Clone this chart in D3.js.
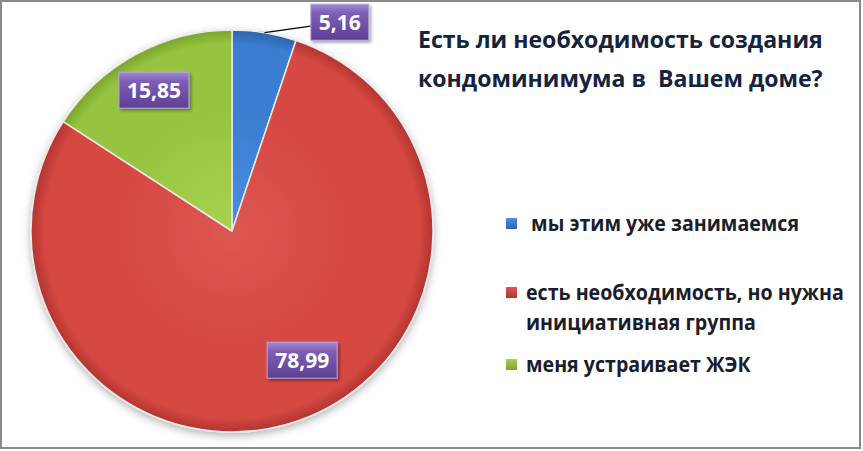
<!DOCTYPE html>
<html>
<head>
<meta charset="utf-8">
<script src="https://cdn.jsdelivr.net/npm/d3@7"></script>
<style>
  body { margin: 0; background: #fff; }
  text { font-family: "Open Sans", "DejaVu Sans", sans-serif; white-space: pre; }
</style>
</head>
<body>
<div id="chart"></div>
<script>
// survey answers, percent
var categories = ["мы этим уже занимаемся", "есть необходимость, но нужна инициативная группа", "меня устраивает ЖЭК"];
var values = [5.16, 78.99, 15.85];
var valueLabels = ["5,16", "78,99", "15,85"];
var legendLines = [[" мы этим уже занимаемся"], ["есть необходимость, но нужна", "инициативная группа"], ["меня устраивает ЖЭК"]];
var titleLines = ["Есть ли необходимость создания", "кондоминимума в  Вашем доме?"];

var colors = [
  {light: "#4a8ee2", base: "#3b7dd0", dark: "#2d63ab"},
  {light: "#dd5651", base: "#d64843", dark: "#b3342f"},
  {light: "#a6d250", base: "#97c440", dark: "#7aa52b"}
];

var width = 863, height = 451;
var cx = 232, cy = 231, radius = 201;

// where Excel put the value boxes (degrees clockwise from top, distance from centre)
var labelPlace = [{angle: 27.3, dist: 235}, {angle: 151.5, dist: 147}, {angle: 331, dist: 161}];

var svg = d3.select("#chart").append("svg")
    .attr("width", width)
    .attr("height", height);

var defs = svg.append("defs");

var shadow = defs.append("filter").attr("id", "pieShadow")
    .attr("x", "-10%").attr("y", "-10%").attr("width", "120%").attr("height", "125%");
shadow.append("feDropShadow").attr("dx", 0).attr("dy", 3).attr("stdDeviation", 4)
    .attr("flood-color", "#000").attr("flood-opacity", 0.3);

var boxShadow = defs.append("filter").attr("id", "boxShadow")
    .attr("x", "-20%").attr("y", "-20%").attr("width", "150%").attr("height", "160%");
boxShadow.append("feDropShadow").attr("dx", 2).attr("dy", 2).attr("stdDeviation", 1.5)
    .attr("flood-color", "#000").attr("flood-opacity", 0.35);

colors.forEach(function(c, i) {
  var g = defs.append("radialGradient").attr("id", "slice" + i)
      .attr("gradientUnits", "userSpaceOnUse")
      .attr("cx", 0).attr("cy", 0).attr("r", radius);
  g.append("stop").attr("offset", "0%").attr("stop-color", c.light);
  g.append("stop").attr("offset", "60%").attr("stop-color", c.base);
  g.append("stop").attr("offset", "93%").attr("stop-color", c.base);
  g.append("stop").attr("offset", "100%").attr("stop-color", c.dark);

  var s = defs.append("linearGradient").attr("id", "key" + i)
      .attr("x1", 0).attr("y1", 0).attr("x2", 0).attr("y2", 1);
  s.append("stop").attr("offset", "0%").attr("stop-color", c.light);
  s.append("stop").attr("offset", "100%").attr("stop-color", c.dark);
});

var boxGrad = defs.append("linearGradient").attr("id", "boxGrad")
    .attr("x1", 0).attr("y1", 0).attr("x2", 0).attr("y2", 1);
boxGrad.append("stop").attr("offset", "0%").attr("stop-color", "#a08ad2");
boxGrad.append("stop").attr("offset", "25%").attr("stop-color", "#7d5fb5");
boxGrad.append("stop").attr("offset", "100%").attr("stop-color", "#5e3f95");

// frame
svg.append("rect")
    .attr("x", 1).attr("y", 1)
    .attr("width", width - 4).attr("height", height - 4)
    .attr("fill", "#fff")
    .attr("stroke", "#8a8a8a")
    .attr("stroke-width", 2);

var pie = d3.pie().sort(null).value(function(d) { return d; });
var arcs = pie(values);

var arc = d3.arc().innerRadius(0).outerRadius(radius);

var g = svg.append("g")
    .attr("transform", "translate(" + cx + "," + cy + ")");

g.append("g")
    .attr("filter", "url(#pieShadow)")
    .selectAll("path")
    .data(arcs)
  .enter().append("path")
    .attr("d", arc)
    .attr("fill", function(d, i) { return "url(#slice" + i + ")"; })
    .attr("stroke", "#e8e8e8")
    .attr("stroke-width", 1.5)
    .attr("stroke-linejoin", "round");

var toRad = Math.PI / 180;
function labelPos(i) {
  var a = labelPlace[i].angle * toRad, r = labelPlace[i].dist;
  return [Math.sin(a) * r, -Math.cos(a) * r];
}

// leader line for the small slice
var edge = d3.arc().innerRadius(radius).outerRadius(radius).centroid(arcs[0]);
var p0 = labelPos(0);

var labels = g.selectAll("g.label")
    .data(arcs)
  .enter().append("g")
    .attr("class", "label")
    .attr("transform", function(d, i) { var p = labelPos(i); return "translate(" + p[0] + "," + p[1] + ")"; });

labels.append("text")
    .attr("text-anchor", "middle")
    .attr("dy", "0.36em")
    .style("font-size", "21px")
    .style("font-weight", 700)
    .attr("fill", "#fff")
    .text(function(d, i) { return valueLabels[i]; })
    .each(function(d) { d.w = this.getComputedTextLength(); });

labels.insert("rect", "text")
    .attr("x", function(d) { return -d.w / 2 - 8; })
    .attr("y", -18)
    .attr("width", function(d) { return d.w + 16; })
    .attr("height", 36)
    .attr("fill", "url(#boxGrad)")
    .attr("stroke", "#b9a7de")
    .attr("stroke-width", 1)
    .attr("filter", "url(#boxShadow)");

g.insert("path", "g.label")
    .attr("d", "M" + edge[0] + "," + edge[1] + "L" + (p0[0] - arcs[0].w / 2 - 8) + "," + (p0[1] + 4))
    .attr("stroke", "#000")
    .attr("stroke-width", 1.3)
    .attr("fill", "none");

// title
var title = svg.append("g").attr("transform", "translate(418,48)");
title.selectAll("text")
    .data(titleLines)
  .enter().append("text")
    .style("font-size", "22.5px")
    .style("font-weight", 700)
    .attr("fill", "#15233d")
    .text(function(d) { return d; });

// squeeze to the narrower Calibri widths of the original
var kt = 405 / title.select("text").node().getComputedTextLength();
title.selectAll("text")
    .attr("transform", function(d, i) { return "translate(0," + (i * 39) + ") scale(" + kt + ",1)"; });

// legend
var legendTop = [218, 287, 359];
var legend = svg.append("g").attr("transform", "translate(506,0)");
var items = legend.selectAll("g")
    .data(categories)
  .enter().append("g")
    .attr("transform", function(d, i) { return "translate(0," + legendTop[i] + ")"; });

items.append("rect")
    .attr("width", 11).attr("height", 11)
    .attr("fill", function(d, i) { return "url(#key" + i + ")"; });

items.each(function(d, i) {
  d3.select(this).selectAll("text")
      .data(legendLines[i])
    .enter().append("text")
      .attr("class", "lg")
      .attr("data-line", function(t, j) { return j; })
      .style("font-size", "22px")
      .style("font-weight", 700)
      .attr("fill", "#1a1d2b")
      .text(function(t) { return t; });
});

var legendTexts = legend.selectAll("text.lg");
var kl = 318 / legendTexts.nodes()[1].getComputedTextLength();
legendTexts.attr("transform", function() {
  var j = +this.getAttribute("data-line");
  return "translate(20," + (13 + j * 30) + ") scale(" + kl + ",1)";
});
</script>
</body>
</html>
